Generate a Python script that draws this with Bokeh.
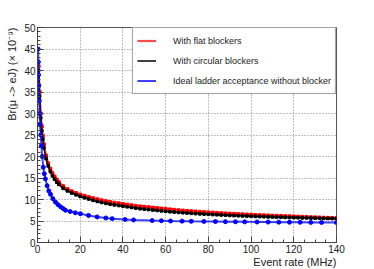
from bokeh.plotting import figure
from bokeh.models import Range1d, Legend, LegendItem, SingleIntervalTicker, Title
from bokeh.embed import file_html
from bokeh.resources import INLINE

# ---- data ----
rate_grid = [0.5, 1, 1.5, 2, 2.5, 3, 4, 5, 6, 7, 8, 9, 10, 12, 14, 16, 18, 20,
             22, 24, 26, 28, 30, 32, 34, 36, 38, 40, 42, 44, 46, 48, 50, 52, 54,
             56, 58, 60, 62, 64, 66, 68, 70, 72, 74, 76, 78, 80, 82, 84, 86, 88,
             90, 92, 94, 96, 98, 100, 102, 104, 106, 108, 110, 112, 114, 116,
             118, 120, 122, 124, 126, 128, 130, 132, 134, 136, 138, 140]

flat_br = [41, 35, 30, 27, 24.8, 22.8, 20.2, 18.4, 17.1, 16.1, 15.3, 14.6, 14.0,
           13.1, 12.4, 11.9, 11.5, 11.15, 10.85, 10.55, 10.3, 10.05, 9.8, 9.6,
           9.4, 9.25, 9.1, 8.95, 8.8, 8.65, 8.5, 8.4, 8.3, 8.2, 8.1, 8.0, 7.9,
           7.8, 7.7, 7.6, 7.5, 7.42, 7.35, 7.27, 7.2, 7.13, 7.06, 7.0, 6.94,
           6.88, 6.82, 6.76, 6.7, 6.65, 6.6, 6.55, 6.5, 6.45, 6.4, 6.36, 6.32,
           6.28, 6.24, 6.2, 6.16, 6.12, 6.08, 6.04, 6.0, 5.96, 5.92, 5.88, 5.84,
           5.8, 5.76, 5.72, 5.68, 5.65]

circ_br = [40, 34, 29, 26, 24, 22, 19.5, 17.8, 16.5, 15.5, 14.7, 14.0, 13.5,
           12.6, 12.0, 11.5, 11.1, 10.7, 10.4, 10.1, 9.8, 9.55, 9.3, 9.1, 8.9,
           8.75, 8.6, 8.45, 8.3, 8.15, 8.0, 7.85, 7.75, 7.65, 7.55, 7.45, 7.35,
           7.25, 7.15, 7.07, 7.0, 6.92, 6.85, 6.78, 6.72, 6.66, 6.6, 6.55, 6.5,
           6.45, 6.4, 6.35, 6.3, 6.26, 6.22, 6.18, 6.14, 6.1, 6.06, 6.03, 6.0,
           5.96, 5.93, 5.9, 5.87, 5.84, 5.81, 5.78, 5.76, 5.73, 5.71, 5.68,
           5.66, 5.63, 5.61, 5.59, 5.57, 5.55]

ideal_rate = [0.3, 0.4, 0.5, 0.6, 0.8, 1.0, 1.2, 1.5, 1.8, 2.2, 2.7, 3.2, 3.7,
              4.5, 5.3, 6.1, 7.2, 8.4, 9.6, 10.8, 12.0, 13.1, 15.3, 17.7, 20.1,
              23.9, 27.9, 32, 35, 41, 45, 53.7, 58, 62.3, 67.7, 72, 77.9, 83.3,
              88, 92.7, 97, 102.8, 108, 113, 118, 123, 128, 133, 140]
ideal_br = [45, 42, 39, 36.5, 33, 30, 27.5, 25, 22.5, 20, 17.5, 16, 14.8, 13.2,
            12.0, 11.2, 10.2, 9.4, 8.8, 8.3, 7.9, 7.5, 7.2, 6.9, 6.7, 6.3, 5.95,
            5.7, 5.55, 5.35, 5.25, 5.1, 5.05, 5.0, 4.97, 4.93, 4.9, 4.87, 4.84,
            4.82, 4.8, 4.77, 4.75, 4.73, 4.71, 4.7, 4.68, 4.67, 4.65]

labels = ["With flat blockers", "With circular blockers",
          "Ideal ladder acceptance without blocker"]
x_label = "Event rate (MHz)"
y_label = "Br(\u03bc -> eJ) (\u00d7 10\u207b\u2079)"

FONT = "Liberation Sans"

p = figure(width=374, height=269, output_backend="svg", toolbar_location=None,
           x_range=Range1d(0, 140), y_range=Range1d(0, 50),
           min_border_left=37, min_border_right=38, min_border_top=27,
           min_border_bottom=27)
p.background_fill_color = "white"
p.border_fill_color = "white"
p.outline_line_color = "#555555"
p.outline_line_width = 1

# grid
for g in (p.xgrid, p.ygrid):
    g.grid_line_color = "#808080"
    g.grid_line_dash = "1 2"
    g.grid_line_width = 1

p.xaxis.ticker = SingleIntervalTicker(interval=20, num_minor_ticks=4)
p.yaxis.ticker = SingleIntervalTicker(interval=5, num_minor_ticks=5)
p.xgrid.ticker = p.xaxis.ticker
p.ygrid.ticker = p.yaxis.ticker

for ax in (p.xaxis, p.yaxis):
    ax.major_tick_in = 6
    ax.major_tick_out = 0
    ax.minor_tick_in = 3
    ax.minor_tick_out = 0
    ax.major_tick_line_color = "#444444"
    ax.minor_tick_line_color = "#444444"
    ax.axis_line_color = "#444444"
    ax.major_label_text_font = FONT
    ax.major_label_text_font_size = "10px"
    ax.major_label_text_color = "#222222"
    ax.major_label_standoff = 2

# axis titles, right/top aligned as in the reference
p.add_layout(Title(text=x_label, align="right", standoff=-3,
                   text_font=FONT, text_font_size="11px",
                   text_font_style="normal", text_color="#222222"), "below")
p.add_layout(Title(text=y_label, align="right", standoff=7,
                   text_font=FONT, text_font_size="11px",
                   text_font_style="normal", text_color="#222222"), "left")

r1 = p.line(rate_grid, flat_br, line_color="#ff0000", line_width=2.2, line_alpha=0.7)
p.scatter(rate_grid, flat_br, marker="square", size=3, color="#ff0000")
r2 = p.line(rate_grid, circ_br, line_color="black", line_width=1.5)
p.scatter(rate_grid, circ_br, marker="square", size=2.6, color="black")
r3 = p.line(ideal_rate, ideal_br, line_color="#0000ff", line_width=2, line_alpha=0.75)
p.scatter(ideal_rate, ideal_br, marker="circle", size=4, color="#0000ff")

# small dots for the legend entries only
d1 = p.scatter([], [], marker="dot", size=10, color="#ff0000", line_width=2)
d2 = p.scatter([], [], marker="dot", size=10, color="black", line_width=2)
d3 = p.scatter([], [], marker="dot", size=10, color="#0000ff", line_width=2)

legend = Legend(items=[LegendItem(label=labels[0], renderers=[r1, d1]),
                       LegendItem(label=labels[1], renderers=[r2, d2]),
                       LegendItem(label=labels[2], renderers=[r3, d3])],
                location="top_right", margin=0, padding=4, spacing=3,
                glyph_width=19, glyph_height=17, label_height=17,
                label_standoff=17, label_text_font=FONT,
                label_text_font_size="9px", label_text_color="#222222",
                border_line_color="#444444", border_line_width=1,
                background_fill_color="white", background_fill_alpha=1)
p.add_layout(legend, "center")

open("out.html", "w").write(file_html(p, INLINE))
